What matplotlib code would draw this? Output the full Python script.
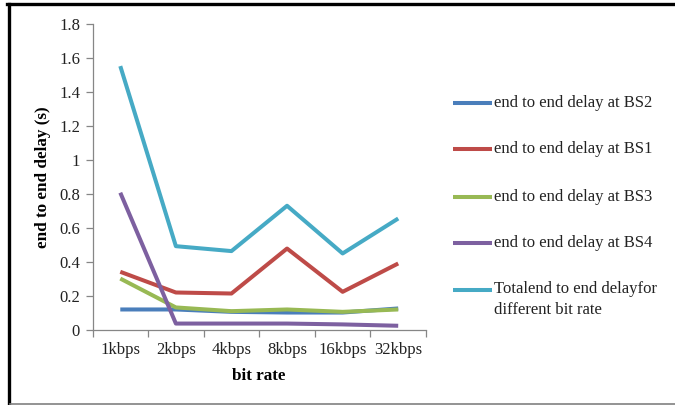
import matplotlib
matplotlib.use("Agg")
import matplotlib.pyplot as plt
from matplotlib.lines import Line2D

categories = ["1kbps", "2kbps", "4kbps", "8kbps", "16kbps", "32kbps"]
bs2 = [0.118, 0.118, 0.104, 0.100, 0.100, 0.124]
bs1 = [0.340, 0.218, 0.212, 0.477, 0.222, 0.389]
bs3 = [0.300, 0.130, 0.108, 0.118, 0.104, 0.118]
bs4 = [0.806, 0.035, 0.035, 0.035, 0.030, 0.022]
total = [1.552, 0.491, 0.462, 0.729, 0.448, 0.654]
series_names = ["end to end delay at BS2", "end to end delay at BS1",
                "end to end delay at BS3", "end to end delay at BS4",
                "Totalend to end delayfor\ndifferent bit rate"]
yticks = [0, 0.2, 0.4, 0.6, 0.8, 1, 1.2, 1.4, 1.6, 1.8]
ytick_labels = ["0", "0.2", "0.4", "0.6", "0.8", "1", "1.2", "1.4", "1.6", "1.8"]

colors = ["#4A7EBB", "#BE4B48", "#98B954", "#7D60A0", "#46AAC5"]

plt.rcParams['font.family'] = ['Liberation Serif', 'DejaVu Serif']

W, H = 675, 405
fig = plt.figure(figsize=(W / 100, H / 100), dpi=100)
fig.patch.set_facecolor("white")

# outer frame
fig.add_artist(Line2D([8.5 / W, 8.5 / W], [1 - 3.5 / H, 1 - 403 / H], transform=fig.transFigure,
                      color="black", lw=2.4))
fig.add_artist(Line2D([7 / W, 1.0], [1 - 3.5 / H, 1 - 3.5 / H], transform=fig.transFigure,
                      color="black", lw=2.4))
fig.add_artist(Line2D([10 / W, 1.0], [1 - 403.5 / H, 1 - 403.5 / H], transform=fig.transFigure,
                      color="#808080", lw=1.2))

left, right = 92.5, 426
top, bottom = 24, 329.5
ax = fig.add_axes([left / W, 1 - bottom / H, (right - left) / W, (bottom - top) / H])

x = list(range(len(categories)))
data = [bs2, bs1, bs3, bs4, total]
for vals, c, name in zip(data, colors, series_names):
    ax.plot(x, vals, color=c, lw=2.9, solid_capstyle="butt", label=name)

ax.set_xlim(-0.5, len(categories) - 0.5)
ax.set_ylim(0, 1.8)
ax.set_yticks(yticks)
ax.set_yticklabels(ytick_labels)
ax.set_xticks(x)
ax.set_xticklabels(categories)
ax.set_xticks([i - 0.5 for i in range(len(categories) + 1)], minor=True)
ax.tick_params(axis="x", which="major", length=0, pad=9, labelsize=12, colors="#222222")
ax.tick_params(axis="x", which="minor", length=5, width=0.9, color="#868686")
ax.tick_params(axis="y", length=5, width=0.9, color="#868686", labelsize=12, pad=4,
               labelcolor="#222222")
for s in ["top", "right"]:
    ax.spines[s].set_visible(False)
for s in ["left", "bottom"]:
    ax.spines[s].set_color("#868686")
    ax.spines[s].set_linewidth(0.9)

ax.set_xlabel("bit rate", fontsize=12.3, fontweight="bold", labelpad=7)
ax.set_ylabel("end to end delay (s)", fontsize=12.3, fontweight="bold", labelpad=6)

# legend entries
leg_y = [103, 149, 197, 243, 290]
for c, name, yy in zip(colors, series_names, leg_y):
    fy = 1 - yy / H
    fig.add_artist(Line2D([453 / W, 492 / W], [fy, fy], transform=fig.transFigure,
                          color=c, lw=2.9, solid_capstyle="butt"))
    if "\n" in name:
        fig.text(494 / W, 1 - (yy - 9) / H, name, ha="left", va="top",
                 fontsize=12, color="#222222", linespacing=1.45)
    else:
        fig.text(494 / W, fy, name, ha="left", va="center",
                 fontsize=12, color="#222222")

fig.savefig("out.png", dpi=100, facecolor="white")
